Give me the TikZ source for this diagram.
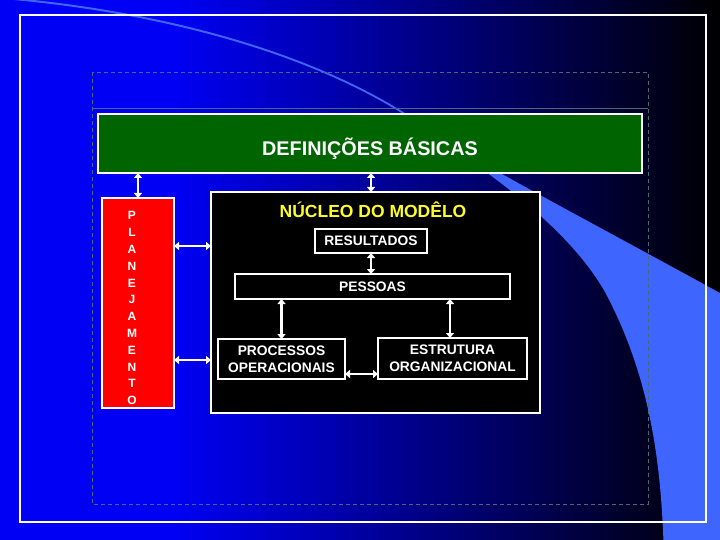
\documentclass[tikz,border=0pt]{standalone}
\usepackage{fontspec}
\setmainfont{Liberation Sans}
\usetikzlibrary{arrows.meta,calc}
\definecolor{bgblue}{RGB}{0,0,245}
\definecolor{swooshcol}{RGB}{62,102,255}
\definecolor{defgreen}{RGB}{0,100,0}
\definecolor{dashcol}{RGB}{70,105,115}
\definecolor{ttlyellow}{RGB}{255,255,40}
\pgfdeclarehorizontalshading{bgshade}{100bp}{color(0bp)=(bgblue); color(25bp)=(bgblue); color(37bp)=(bgblue); color(75bp)=(black); color(100bp)=(black)}
\tikzset{
  box/.style={draw=white, inner sep=0pt, outer sep=0pt, text=white},
  boxfont/.style={font=\bfseries\fontsize{13.8}{17}\selectfont},
  capc/.style={text height=9.9pt, text depth=0pt},
  dbl/.style={white, line width=2.7pt, {Triangle[length=5pt,width=8pt]}-{Triangle[length=5pt,width=8pt]}}
}
\begin{document}
\begin{tikzpicture}[x=1pt,y=-1pt]
\useasboundingbox (0,0) rectangle (720,540);
% background
\fill[shading=bgshade] (0,0) rectangle (720,540);
% swoosh
\fill[swooshcol] (-10,-4) .. controls (150,8) and (320,50) .. (430,130)
  .. controls (480,165) and (560,205) .. (740,304) -- (740,560) -- (664,560)
  .. controls (662,470) and (652,380) .. (605,292)
  .. controls (565,222) and (480,168) .. (430,132)
  .. controls (320,52) and (150,10) .. (-10,-2) -- cycle;
% frame
\draw[white, line width=2pt] (20,15) rectangle (706,522);
% dashed placeholder
\draw[dashcol, line width=0.9pt, dash pattern=on 4pt off 3pt] (92,72) rectangle (648,504);
\draw[dashcol, line width=0.9pt] (92,108) -- (648,108);
% definicoes
\node[box, fill=defgreen, line width=2.5pt, minimum width=544pt, minimum height=59pt,
      font=\bfseries\fontsize{19.8}{22}\selectfont, text height=14.2pt, text depth=0pt]
      (def) at (370,143.5) {\raisebox{-4.5pt}{DEFINIÇÕES BÁSICAS}};
% planejamento
\node[box, fill=red, line width=2pt, minimum width=72pt, minimum height=210pt] (plan) at (138,303) {};
\node[text=white, inner sep=0pt, align=center, font=\bfseries\fontsize{12}{16.8}\selectfont]
      (plantxt) at (132,308.2) {P\\L\\A\\N\\E\\J\\A\\M\\E\\N\\T\\O};
% nucleo
\node[box, fill=black, line width=2.5pt, minimum width=329pt, minimum height=221pt] (nuc) at (375.5,302.5) {};
\node[text=ttlyellow, inner sep=0pt, font=\bfseries\fontsize{17.5}{20}\selectfont, text height=12.5pt, text depth=0pt]
      (title) at (373,211) {NÚCLEO DO MODÊLO};
\node[box, boxfont, capc, fill=black, line width=1.3pt, minimum width=112pt, minimum height=24pt] (res) at (371,241) {RESULTADOS};
\node[box, boxfont, capc, fill=black, line width=1.3pt, minimum width=275pt, minimum height=25pt] (pess) at (372.5,286.5) {PESSOAS};
\node[box, boxfont, fill=black, line width=1.3pt, align=center, minimum width=127pt, minimum height=40pt] (proc) at (281.5,359) {PROCESSOS\\OPERACIONAIS};
\node[box, boxfont, fill=black, line width=1.3pt, align=center, minimum width=149pt, minimum height=41pt] (est) at (452.5,358.5) {ESTRUTURA\\ORGANIZACIONAL};
% connectors
\draw[dbl] (def.south -| plan.north) -- (plan.north);
\draw[dbl] (def.south -| res.north) -- (nuc.north -| res.north);
\coordinate (pa) at ([yshift=57pt]plan.east);
\coordinate (pb) at ([yshift=-57pt]plan.east);
\draw[dbl] (pa) -- (pa -| nuc.west);
\draw[dbl] (pb) -- (pb -| nuc.west);
\draw[dbl] (res.south) -- (res.south |- pess.north);
\draw[dbl] (proc.north) -- (proc.north |- pess.south);
\coordinate (ea) at ([xshift=-2.5pt]est.north);
\draw[dbl] (ea) -- (ea |- pess.south);
\coordinate (pc) at ([yshift=-15pt]proc.east);
\draw[dbl] (pc) -- (pc -| est.west);
\end{tikzpicture}
\end{document}
